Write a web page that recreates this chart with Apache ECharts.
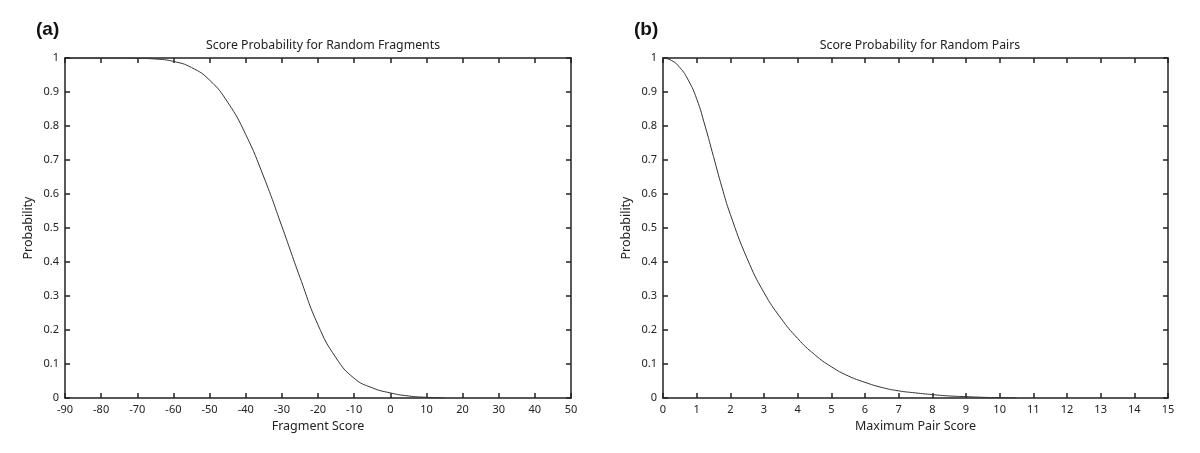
<!DOCTYPE html>
<html>
<head>
<meta charset="utf-8">
<title>Score Probability</title>
<script src="https://cdn.jsdelivr.net/npm/echarts@6/dist/echarts.min.js"></script>
<style>
  html, body { margin: 0; padding: 0; background: #fff; }
  #chart { width: 1200px; height: 453px; }
</style>
</head>
<body>
<div id="chart"></div>
<script>
// (a) 随机片段
const fragScores = [-90, -80, -75, -70, -65, -60, -55, -50, -45, -40, -35, -30, -25, -20, -15, -10, -5, 0, 5, 10, 15]
const fragProb = [1, 1, 1, 0.999, 0.997, 0.99, 0.972, 0.935, 0.87, 0.775, 0.65, 0.505, 0.355, 0.215, 0.118, 0.058, 0.03, 0.015, 0.006, 0.002, 0]

// (b) 随机配对
const pairScores = [0, 0.25, 0.5, 0.75, 1, 1.25, 1.5, 1.75, 2, 2.5, 3, 3.5, 4, 4.5, 5, 5.5, 6, 6.5, 7, 7.5, 8, 8.5, 9, 9.5, 10, 10.5]
const pairProb = [1, 0.993, 0.972, 0.935, 0.88, 0.8, 0.71, 0.62, 0.54, 0.41, 0.31, 0.235, 0.175, 0.128, 0.092, 0.065, 0.046, 0.031, 0.021, 0.015, 0.01, 0.006, 0.004, 0.002, 0.001, 0]

const titles = ['Score Probability for Random Fragments', 'Score Probability for Random Pairs']
const panelTags = ['(a)', '(b)']
const xNames = ['Fragment Score', 'Maximum Pair Score']
const yName = 'Probability'

const FONT = '"Noto Sans", sans-serif'
const INK = '#222'

const toPairs = (xs, ys) => xs.map((x, i) => [x, ys[i]])

const axisLine = { show: true, onZero: false, lineStyle: { color: INK, width: 1.5 } }
const axisTick = { show: true, inside: true, length: 5, lineStyle: { color: INK, width: 1.5 } }

// 底部 x 轴 + 顶部镜像轴
const makeX = (gridIndex, min, max, interval, name) => [
  {
    type: 'value', gridIndex, min, max, interval,
    position: 'bottom',
    name, nameLocation: 'middle', nameGap: 22,
    nameTextStyle: { fontFamily: FONT, fontSize: 12.5, color: INK },
    axisLine, axisTick,
    axisLabel: { margin: 6, fontFamily: FONT, fontSize: 11, color: INK },
    splitLine: { show: false }
  },
  {
    type: 'value', gridIndex, min, max, interval,
    position: 'top',
    axisLine, axisTick,
    axisLabel: { show: false },
    splitLine: { show: false }
  }
]

// 左侧 y 轴 + 右侧镜像轴
const makeY = (gridIndex) => [
  {
    type: 'value', gridIndex, min: 0, max: 1, interval: 0.1,
    position: 'left',
    name: yName, nameLocation: 'middle', nameGap: 30, nameRotate: 90,
    nameTextStyle: { fontFamily: FONT, fontSize: 12.5, color: INK },
    axisLine, axisTick,
    axisLabel: {
      margin: 6, fontFamily: FONT, fontSize: 11, color: INK,
      formatter: v => String(Math.round(v * 10) / 10)
    },
    splitLine: { show: false }
  },
  {
    type: 'value', gridIndex, min: 0, max: 1, interval: 0.1,
    position: 'right',
    axisLine, axisTick,
    axisLabel: { show: false },
    splitLine: { show: false }
  }
]

const chart = echarts.init(document.getElementById('chart'), null, { renderer: 'canvas' })

chart.setOption({
  animation: false,
  backgroundColor: '#fff',
  title: [
    { text: panelTags[0], left: 31, top: 15, textStyle: { fontFamily: '"Liberation Sans", Arial, sans-serif', fontSize: 19, fontWeight: 'bold', color: '#111' } },
    { text: panelTags[1], left: 629, top: 15, textStyle: { fontFamily: '"Liberation Sans", Arial, sans-serif', fontSize: 19, fontWeight: 'bold', color: '#111' } },
    { text: titles[0], left: 318, top: 34, textAlign: 'center', textStyle: { fontFamily: FONT, fontSize: 12.3, fontWeight: 'normal', color: INK } },
    { text: titles[1], left: 915, top: 34, textAlign: 'center', textStyle: { fontFamily: FONT, fontSize: 12.3, fontWeight: 'normal', color: INK } }
  ],
  grid: [
    { left: 65, right: 629, top: 58, bottom: 55 },
    { left: 663, right: 32, top: 58, bottom: 55 }
  ],
  xAxis: [...makeX(0, -90, 50, 10, xNames[0]), ...makeX(1, 0, 15, 1, xNames[1])],
  yAxis: [...makeY(0), ...makeY(1)],
  series: [
    {
      type: 'line', xAxisIndex: 0, yAxisIndex: 0,
      data: toPairs(fragScores, fragProb),
      smooth: 0.5,
      symbol: 'none',
      clip: true,
      lineStyle: { color: '#333', width: 1 }
    },
    {
      type: 'line', xAxisIndex: 2, yAxisIndex: 2,
      data: toPairs(pairScores, pairProb),
      smooth: 0.5,
      symbol: 'none',
      clip: true,
      lineStyle: { color: '#333', width: 1 }
    }
  ]
})
</script>
</body>
</html>
